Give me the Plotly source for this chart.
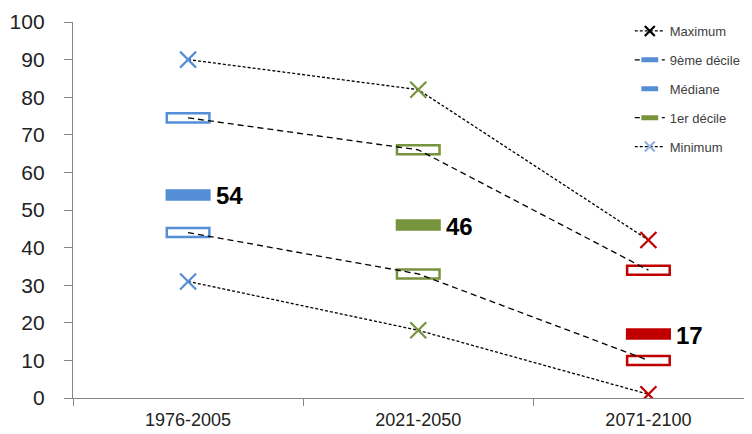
import plotly.graph_objects as go

periods = ["1976-2005", "2021-2050", "2071-2100"]
maximum = [90, 82, 42]
decile9 = [74.5, 66, 34]
mediane = [54, 46, 17]
decile1 = [44, 33, 10]
minimum = [31, 18, 1]

period_colors = ["#558ED5", "#77933C", "#C00000"]
BAR_H = 2.4
BAR_W = 0.185

fig = go.Figure()

# hollow / filled rectangles as thin bars
for vals, fill in [(decile9, None), (decile1, None), (mediane, "full")]:
    fig.add_trace(go.Bar(
        x=periods, y=[BAR_H] * len(vals), base=[v - BAR_H / 2 for v in vals],
        width=BAR_W,
        marker=dict(color=period_colors if fill else ["white"] * 3,
                    line=dict(color=period_colors, width=2.5)),
        showlegend=False, hoverinfo="skip"))

# dashed connecting lines
for vals, dash in [(maximum, "3px,2px"), (decile9, "6px,4px"), (decile1, "6px,4px"), (minimum, "3px,2px")]:
    fig.add_trace(go.Scatter(x=periods, y=vals, mode="lines",
                             line=dict(color="black", width=1.3, dash=dash),
                             showlegend=False, hoverinfo="skip"))

# crosses
for vals in [maximum, minimum]:
    fig.add_trace(go.Scatter(x=periods, y=vals, mode="markers",
                             marker=dict(symbol="x-thin", size=16,
                                         line=dict(color=period_colors, width=2.2)),
                             showlegend=False, hoverinfo="skip"))

# legend entries
leg = [
    ("Maximum", "3px,2px", "x-thin", "black", 10, 2.2),
    ("9ème décile", "5px,4px", "line-ew", "#558ED5", 12, 5),
    ("Médiane", None, "line-ew", "#558ED5", 12, 5),
    ("1er décile", "5px,4px", "line-ew", "#77933C", 12, 5),
    ("Minimum", "3px,2px", "x-thin", "#95B3D7", 10, 2.2),
]
for i, (name, dash, sym, col, sz, lw) in enumerate(leg):
    fig.add_trace(go.Scatter(
        x=[None], y=[None], name=name,
        mode="lines+markers" if dash else "markers",
        line=dict(color="black", width=1.3, dash=dash) if dash else None,
        marker=dict(symbol=sym, size=sz, color=col, line=dict(color=col, width=lw)),
        legendgroup=f"g{i}"))

for p, m, c in zip(periods, mediane, period_colors):
    fig.add_annotation(x=p, y=m, text=f"<b>{m}</b>", showarrow=False,
                       xanchor="left", xshift=26, yshift=-1,
                       font=dict(size=24, color="black", family="Liberation Sans Narrow, Liberation Sans"))

fig.update_layout(
    width=744, height=426,
    margin=dict(l=65, r=0, t=14, b=36),
    paper_bgcolor="white", plot_bgcolor="white",
    barmode="overlay",
    font=dict(family="Liberation Sans", color="#222222"),
    legend=dict(x=0.82, y=1.016, xanchor="left", yanchor="top",
                font=dict(size=13, color="#404040"), tracegroupgap=9,
                bgcolor="rgba(0,0,0,0)"),
    xaxis=dict(type="category", range=[-0.5, 2.45], showline=True, linecolor="#868686",
               linewidth=1.3, ticks="outside", tickson="boundaries", ticklen=7,
               tickcolor="#868686", showgrid=False, tickfont=dict(size=18, color="#222222"),
               ticklabelstandoff=5, automargin=False),
    yaxis=dict(range=[0, 100], dtick=10, showline=True, linecolor="#868686", linewidth=1.3,
               ticks="outside", ticklen=8, tickcolor="#868686", showgrid=False, zeroline=False,
               tickfont=dict(size=21, color="#222222"), ticklabelstandoff=15, automargin=False),
)

fig.write_html("out.html")
